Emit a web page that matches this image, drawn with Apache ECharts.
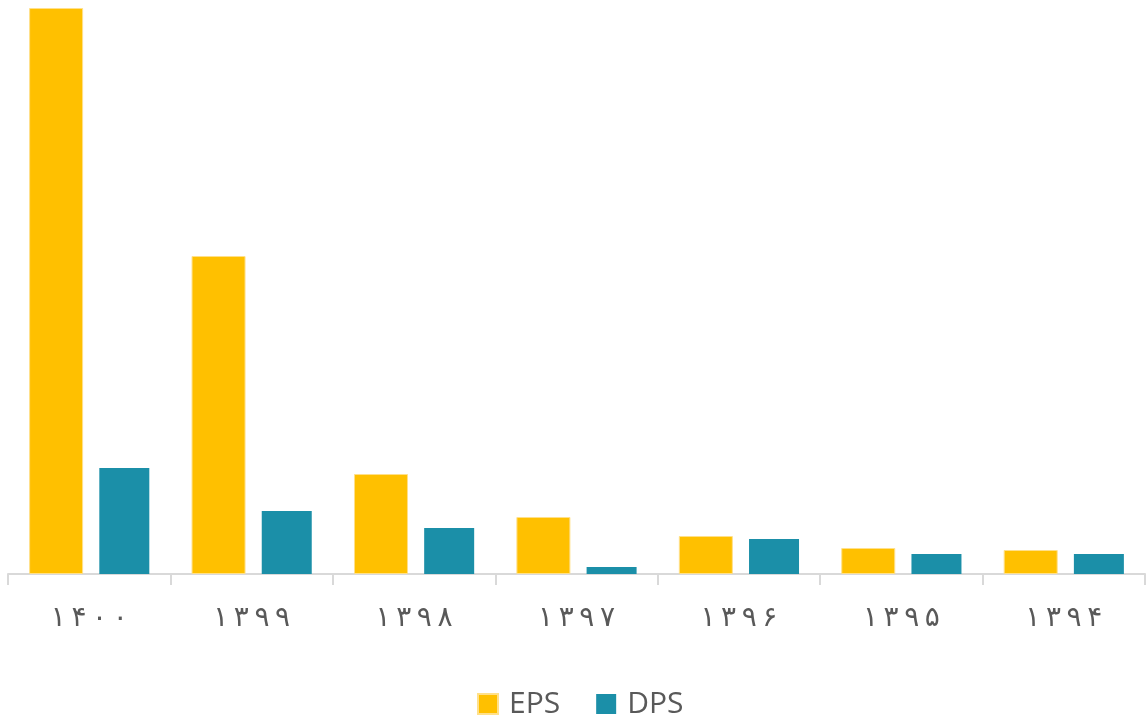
<!DOCTYPE html>
<html>
<head>
<meta charset="utf-8">
<script src="https://cdn.jsdelivr.net/npm/echarts@6/dist/echarts.min.js"></script>
<style>
  html, body { margin: 0; padding: 0; background: #fff; }
  #chart { width: 1146px; height: 723px; }
</style>
</head>
<body>
<div id="chart"></div>
<script>
// Fiscal years (Persian calendar), newest first
const years = ['۱۴۰۰', '۱۳۹۹', '۱۳۹۸', '۱۳۹۷', '۱۳۹۶', '۱۳۹۵', '۱۳۹۴'];
// Earnings per share
const eps = [5660, 3180, 1000, 570, 380, 260, 240];
// Dividends per share
const dps = [1060, 630, 460, 70, 350, 200, 200];

const chart = echarts.init(document.getElementById('chart'));
chart.setOption({
  animation: false,
  grid: { left: 8, right: 1, top: 0, bottom: 149, containLabel: false },
  xAxis: {
    type: 'category',
    data: years,
    axisLine: { lineStyle: { color: '#d9d9d9', width: 2 } },
    axisTick: { show: true, length: 11, lineStyle: { color: '#d9d9d9', width: 2 } },
    axisLabel: {
      color: '#595959',
      fontFamily: 'DejaVu Sans',
      fontSize: 28,
      margin: 31,
      // open up the digits a little with thin spaces
      formatter: (v) => v.split('').join('\u2009')
    }
  },
  yAxis: {
    type: 'value',
    min: 0,
    max: 5740,
    show: false,
    splitLine: { show: false }
  },
  legend: {
    bottom: 4,
    padding: 0,
    left: 477,
    itemWidth: 20,
    itemHeight: 20,
    itemGap: 36,
    icon: 'rect',
    textStyle: { color: '#595959', fontFamily: 'Open Sans', fontSize: 30, padding: [0, 0, 0, 6] },
    data: ['EPS', 'DPS']
  },
  series: [
    {
      name: 'EPS',
      type: 'bar',
      data: eps,
      barWidth: 54,
      barGap: '30%',
      itemStyle: { color: '#ffc000', borderColor: '#ffe08a', borderWidth: 1 }
    },
    {
      name: 'DPS',
      type: 'bar',
      data: dps,
      barWidth: 50,
      itemStyle: { color: '#1b8fa8' }
    }
  ]
});
</script>
</body>
</html>
